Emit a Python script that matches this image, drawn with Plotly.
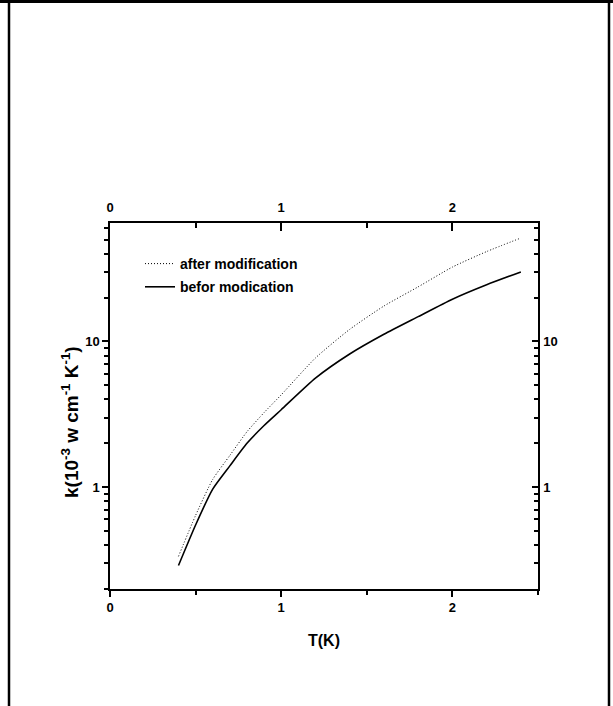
import plotly.graph_objects as go

# Data
T = [0.4, 0.5, 0.6, 0.7, 0.8, 0.9, 1.0, 1.2, 1.4, 1.6, 1.8, 2.0, 2.2, 2.4]
k_after = [0.335, 0.64, 1.13, 1.65, 2.4, 3.25, 4.3, 7.7, 12.1, 17.5, 23.7, 32.4, 41.4, 51.3]
k_before = [0.29, 0.55, 0.97, 1.4, 2.0, 2.65, 3.4, 5.6, 8.2, 11.2, 14.8, 19.5, 24.5, 30]

x_ticks = [0, 1, 2]
x_minor = [0.5, 1.5, 2.5]
y_ticks = [1, 10]
y_tick_text = ["1", "10"]
y_minor = [0.2, 0.3, 0.4, 0.5, 0.6, 0.7, 0.8, 0.9,
           2, 3, 4, 5, 6, 7, 8, 9, 20, 30, 40, 50, 60]

W, H = 613, 706
L, R, TOP, B = 110, 75, 223, 117
x_range = [0, 2.5]
y_range = [-0.699, 1.813]  # log10 of 0.2 .. 65

bold = "Liberation Sans"
narrow = "Liberation Sans Narrow, Liberation Sans"

pw, ph = W - L - R, H - TOP - B
def px(xp):
    return (xp - L) / pw
def py(yp):
    return 1 - (yp - TOP) / ph

fig = go.Figure()
fig.add_trace(go.Scatter(x=T, y=k_after, mode="lines", name="after modification",
                         line=dict(color="black", width=1, dash="1px,2px",
                                   shape="spline", smoothing=0.6),
                         legendgroup="a"))
fig.add_trace(go.Scatter(x=T, y=k_before, mode="lines", name="befor modication",
                         line=dict(color="black", width=1.6, shape="spline", smoothing=0.6),
                         legendgroup="b"))
# invisible trace to anchor the mirror axes
fig.add_trace(go.Scatter(x=T, y=k_before, xaxis="x2", yaxis="y2", mode="lines",
                         line=dict(color="rgba(0,0,0,0)"), showlegend=False,
                         hoverinfo="skip"))

axis_common = dict(showgrid=False, zeroline=False, linecolor="black", linewidth=1.5,
                   tickcolor="black", tickwidth=1.5,
                   tickfont=dict(family=bold, size=13, color="black", weight="bold"))

fig.update_layout(
    width=W, height=H,
    margin=dict(l=L, r=R, t=TOP, b=B),
    paper_bgcolor="white", plot_bgcolor="white",
    showlegend=True,
    legend=dict(x=px(140), y=py(248),
                xanchor="left", yanchor="top", bgcolor="rgba(0,0,0,0)",
                font=dict(family=narrow, size=14, color="black", weight="bold"),
                tracegroupgap=2, traceorder="grouped", itemwidth=30),
    xaxis=dict(range=x_range, tickvals=x_ticks, ticktext=[str(v) for v in x_ticks],
               ticks="outside", ticklen=6, showline=True,
               minor=dict(tickvals=x_minor, ticks="outside", ticklen=4,
                          tickcolor="black", tickwidth=1.5),
               title=dict(text="T(K)", standoff=20,
                          font=dict(family=narrow, size=16, color="black", weight="bold")),
               **axis_common),
    xaxis2=dict(range=x_range, overlaying="x", side="top", anchor="y",
                tickvals=x_ticks, ticktext=[str(v) for v in x_ticks],
                ticks="inside", ticklen=8, showline=True, ticklabelstandoff=4,
                minor=dict(tickvals=x_minor, ticks="inside", ticklen=5,
                           tickcolor="black", tickwidth=1.5),
                **axis_common),
    yaxis=dict(type="log", range=y_range, tickvals=y_ticks, ticktext=y_tick_text,
               ticks="outside", ticklen=6, showline=True,
               minor=dict(tickvals=y_minor, ticks="outside", ticklen=4,
                          tickcolor="black", tickwidth=1.5),
               **axis_common),
    yaxis2=dict(type="log", range=y_range, overlaying="y", side="right", anchor="x",
                tickvals=y_ticks, ticktext=y_tick_text,
                ticks="inside", ticklen=6, showline=True, ticklabelstandoff=1,
                minor=dict(tickvals=y_minor, ticks="inside", ticklen=4,
                           tickcolor="black", tickwidth=1.5),
                **axis_common),
)

# y-axis title placed as a rotated annotation
fig.add_annotation(text="k(10<sup>-3</sup> w cm<sup>-1</sup> K<sup>-1</sup>)",
                   xref="paper", yref="paper", x=px(70), y=py(422),
                   xanchor="center", yanchor="middle", textangle=-90, showarrow=False,
                   font=dict(family=bold, size=19, color="black", weight="bold"))

# decorative page frame (left, right, top lines)
frame = dict(type="line", xref="paper", yref="paper", line=dict(color="black", width=2.5))
fig.add_shape(x0=px(9), x1=px(9), y0=py(0), y1=py(H), **frame)
fig.add_shape(x0=px(609), x1=px(609), y0=py(0), y1=py(H), **frame)
fig.add_shape(type="line", xref="paper", yref="paper",
              x0=px(0), x1=px(W), y0=py(1.5), y1=py(1.5),
              line=dict(color="black", width=3))

fig.write_html("out.html", config={"displayModeBar": False},
               post_script="document.body.style.margin='0';document.body.style.overflow='hidden';")
